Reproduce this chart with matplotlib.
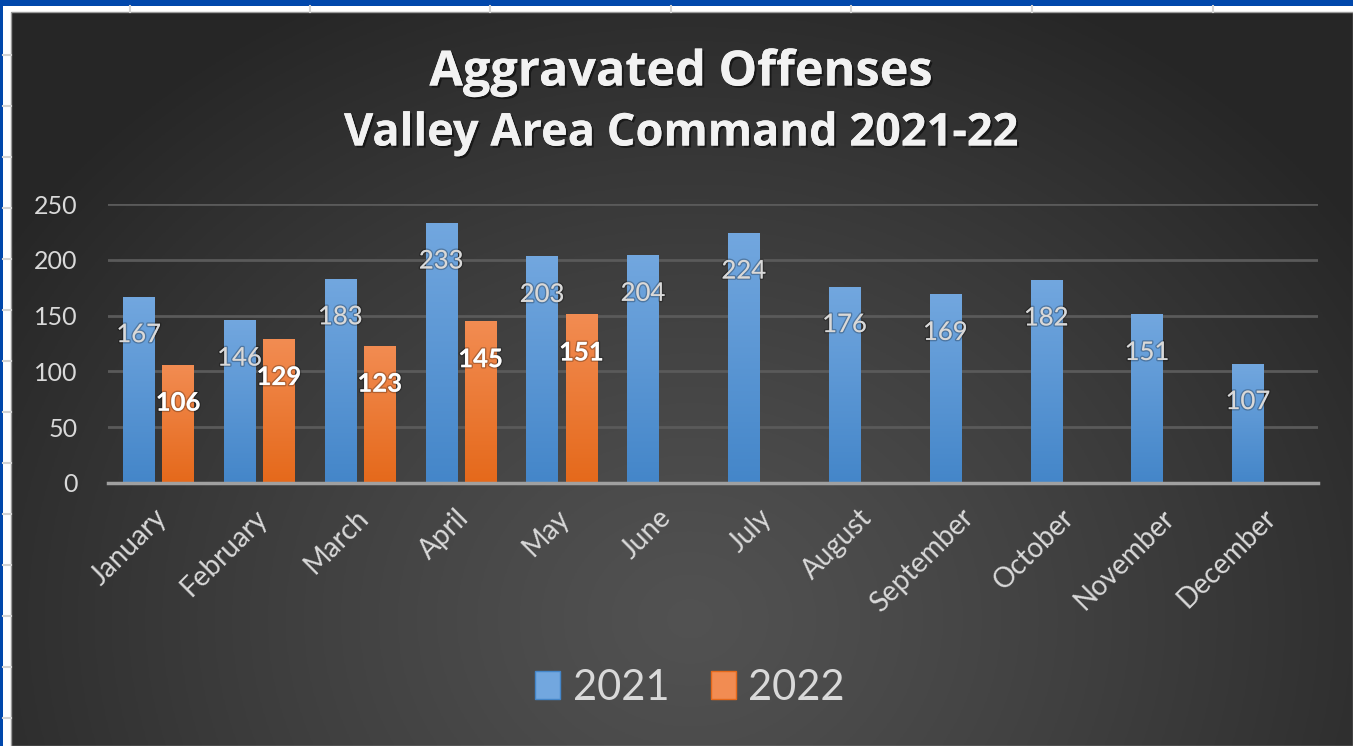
import matplotlib

matplotlib.use("Agg")

import matplotlib.pyplot as plt
import matplotlib.patheffects as pe
import numpy as np
from matplotlib.colors import LinearSegmentedColormap
from matplotlib.lines import Line2D
from matplotlib.patches import Patch, Rectangle

plt.rcParams["font.family"] = ["Lato", "DejaVu Sans"]

months = ["January", "February", "March", "April", "May", "June", "July",
          "August", "September", "October", "November", "December"]
values_2021 = [167, 146, 183, 233, 203, 204, 224, 176, 169, 182, 151, 107]
values_2022 = [106, 129, 123, 145, 151]
series_names = ["2021", "2022"]
y_ticks = [0, 50, 100, 150, 200, 250]

W, H = 1353, 746
BLUE_TOP, BLUE_BOT = "#72a7df", "#4486c9"
ORANGE_TOP, ORANGE_BOT = "#f28c52", "#e5691b"
TEXT_GREY = "#d9d9d9"


def px(x, y):
    # pixel position (top-left origin) -> figure fraction
    return x / W, 1 - y / H


def gradient_bars(ax, bars, top, bottom):
    cmap = LinearSegmentedColormap.from_list("g", [bottom, top])
    grad = np.linspace(0, 1, 128).reshape(-1, 1)
    for bar in bars:
        x, y = bar.get_x(), bar.get_y()
        w, h = bar.get_width(), bar.get_height()
        im = ax.imshow(grad, cmap=cmap, origin="lower", aspect="auto",
                       extent=[x, x + w, y, y + h], zorder=3)
        im.set_clip_path(bar)


fig = plt.figure(figsize=(W / 100, H / 100), dpi=100, facecolor="white")

# spreadsheet behind the chart
for gx in [130, 310, 490, 671, 851, 1032, 1213]:
    fig.add_artist(Line2D([gx / W] * 2, [1 - 12 / H, 1 - 6 / H], color="#d4d4d4", lw=1.5))
for gy in range(55, 746, 51):
    fig.add_artist(Line2D([3 / W, 11 / W], [1 - gy / H] * 2, color="#d4d4d4", lw=1.5))
fig.add_artist(Rectangle((0, 1 - 6 / H), 1, 6 / H, color="#0047ab", lw=0))
fig.add_artist(Rectangle((0, 0), 3 / W, 1, color="#0047ab", lw=0))

# chart area with radial gradient
x0, y0 = px(11, 12)
bg = fig.add_axes([x0, 0, 1 - x0, y0])
bg.set_axis_off()
gx, gy = np.meshgrid(np.linspace(11, W, 400), np.linspace(12, H, 250))
r = np.sqrt(((gx - 690) / 820) ** 2 + ((gy - 620) / 700) ** 2)
r = np.clip(r, 0, 1)
shade = 0.32 - (0.32 - 0.15) * r ** 1.2
bg.imshow(np.dstack([shade] * 3), aspect="auto", extent=[0, 1, 0, 1], origin="upper")
bg.set_xlim(0, 1)
bg.set_ylim(0, 1)
fig.add_artist(Rectangle((x0, 0), 1 - x0, y0, fill=False, ec="#9a9a9a", lw=1))

# plot area
left, top = px(108, 204)
right, bottom = px(1318, 483)
ax = fig.add_axes([left, bottom, right - left, top - bottom])
ax.set_facecolor("none")

x = np.arange(len(months))
bw = 0.31
off = 0.195
b1 = ax.bar(x - off, values_2021, bw, color=BLUE_BOT, zorder=3)
b2 = ax.bar(x[:len(values_2022)] + off, values_2022, bw, color=ORANGE_BOT, zorder=3)
gradient_bars(ax, b1, BLUE_TOP, BLUE_BOT)
gradient_bars(ax, b2, ORANGE_TOP, ORANGE_BOT)

glow = [pe.withStroke(linewidth=2, foreground=(0, 0, 0, 0.25))]
for xi, v in zip(x - off, values_2021):
    ax.annotate(str(v), (xi, v), xytext=(0, -38), textcoords="offset pixels",
                ha="center", va="center", fontsize=18.5, color=TEXT_GREY,
                zorder=5, path_effects=glow)
for xi, v in zip(x[:len(values_2022)] + off, values_2022):
    ax.annotate(str(v), (xi, v), xytext=(0, -38), textcoords="offset pixels",
                ha="center", va="center", fontsize=18.5, color="white",
                fontweight="bold", zorder=5, path_effects=glow)

ax.set_xlim(-0.5, len(months) - 0.5)
ax.set_ylim(0, 250)
ax.set_yticks(y_ticks)
ax.yaxis.grid(True, color="#5a5a5a", lw=2)
ax.set_axisbelow(True)
for s in ["left", "right", "top"]:
    ax.spines[s].set_visible(False)
ax.spines["bottom"].set_color("#a0a0a0")
ax.spines["bottom"].set_linewidth(2.5)
ax.spines["bottom"].set_zorder(4)
ax.tick_params(axis="y", length=0, pad=22, labelsize=18, labelcolor=TEXT_GREY)
ax.tick_params(axis="x", length=0, pad=12, labelsize=20, labelcolor=TEXT_GREY)
ax.set_xticks(x)
ax.set_xticklabels(months, rotation=45, ha="right", va="center", rotation_mode="anchor")
for lab in ax.get_xticklabels():
    lab.set_transform(lab.get_transform() + matplotlib.transforms.Affine2D().translate(4, -14))

# titles
shadow = [pe.withSimplePatchShadow(offset=(1.5, -1.5), shadow_rgbFace="black", alpha=0.5), pe.Normal()]
fig.text(*px(681, 73), "Aggravated Offenses", ha="center", va="center", fontsize=35,
         fontweight="bold", family=["Open Sans", "DejaVu Sans"], color="#f2f2f2", path_effects=shadow)
fig.text(*px(681, 134), "Valley Area Command 2021-22", ha="center", va="center", fontsize=32.5,
         fontweight="bold", family=["Open Sans", "DejaVu Sans"], color="#f2f2f2", path_effects=shadow)

handles = [Patch(facecolor=BLUE_TOP, edgecolor=BLUE_BOT), Patch(facecolor=ORANGE_TOP, edgecolor=ORANGE_BOT)]
fig.legend(handles, series_names, loc="center", bbox_to_anchor=px(690, 688), ncol=2,
           frameon=False, fontsize=30, labelcolor=TEXT_GREY, handlelength=0.6,
           handleheight=0.65, handletextpad=0.3, columnspacing=1.0)

fig.savefig("out.png", dpi=100, facecolor=fig.get_facecolor())
